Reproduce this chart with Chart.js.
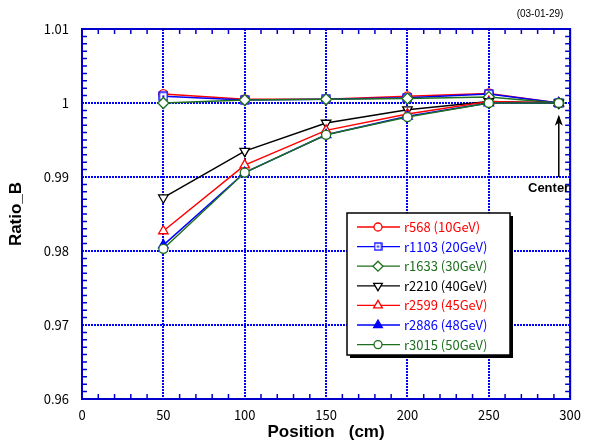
<!DOCTYPE html>
<html>
<head>
<meta charset="utf-8">
<script src="https://cdn.jsdelivr.net/npm/chart.js@4"></script>
<style>
  html,body{margin:0;padding:0;background:#fff;}
  #wrap{width:589px;height:446px;position:relative;}
</style>
</head>
<body>
<div id="wrap"><canvas id="chart"></canvas></div>
<script>
// data
const positions=[50,100,150,200,250,293]
const r568=[1.0012,1.0005,1.0005,1.0009,1.0013,1.0]
const r1103=[1.0009,1.0004,1.0005,1.0007,1.0012,1.0]
const r1633=[1.0,1.0004,1.0005,1.0006,1.0008,1.0]
const r2210=[0.9872,0.9935,0.9973,0.9991,1.0002,1.0]
const r2599=[0.9827,0.9916,0.9963,0.9985,1.0002,1.0]
const r2886=[0.9808,0.9906,0.9957,0.9982,1.0,1.0]
const r3015=[0.9803,0.9906,0.9957,0.9981,1.0,1.0]
const runLabels=['r568 (10GeV)','r1103 (20GeV)','r1633 (30GeV)','r2210 (40GeV)','r2599 (45GeV)','r2886 (48GeV)','r3015 (50GeV)']
const xTicks=[0,50,100,150,200,250,300]
const yTicks=[0.96,0.97,0.98,0.99,1,1.01]
const centerX=293

const RED='#ff0000',BLUE='#0000ff',GREEN='#1e701e',BLACK='#000000'

//open square with a dot in the middle
function dotSquare(size){
    const cv=document.createElement('canvas')
    cv.width=size;cv.height=size
    const g=cv.getContext('2d')
    g.fillStyle='#fff';g.fillRect(1,1,size-2,size-2)
    g.strokeStyle=BLUE;g.lineWidth=1.3
    g.strokeRect(1,1,size-2,size-2)
    g.fillStyle=BLUE;g.fillRect(size/2-1,size/2-1,2,2)
    return cv
}
const sqBig=dotSquare(10),sqSmall=dotSquare(9)

const series=[
    {vals:r568,color:RED,style:'circle',fill:'#fff',rot:0,r:4.5},
    {vals:r1103,color:BLUE,style:sqBig,fill:'#fff',rot:0,r:4.5},
    {vals:r1633,color:GREEN,style:'rectRot',fill:'#fff',rot:0,r:5.5},
    {vals:r2210,color:BLACK,style:'triangle',fill:'#fff',rot:180,r:5.5},
    {vals:r2599,color:RED,style:'triangle',fill:'#fff',rot:0,r:5.5},
    {vals:r2886,color:BLUE,style:'triangle',fill:BLUE,rot:0,r:5.5},
    {vals:r3015,color:GREEN,style:'circle',fill:'#fff',rot:0,r:4.5},
]

const datasets=series.map((s,i)=>({
    label:runLabels[i],
    data:positions.map((p,j)=>({x:p,y:s.vals[j]})),
    borderColor:s.color,
    backgroundColor:s.fill,
    pointStyle:s.style,
    rotation:s.rot,
    pointRadius:s.r,
    pointBorderWidth:1.3,
    borderWidth:1.5,
    showLine:true,
    order:series.length-i
}))

//minor ticks, frame, legend and the Center arrow
const extras={
    id:'extras',
    afterDatasetsDraw(chart){
        const c=chart.ctx,a=chart.chartArea
        const xs=chart.scales.x,ys=chart.scales.y
        c.save()
        c.strokeStyle='#0000cc'
        c.lineWidth=1.5
        c.beginPath()
        for(let v=10;v<300;v+=10){
            if(v%50==0)continue
            const px=xs.getPixelForValue(v)
            c.moveTo(px,a.bottom);c.lineTo(px,a.bottom-5)
            c.moveTo(px,a.top);c.lineTo(px,a.top+5)
        }
        for(let k=961;k<1010;k++){
            if(k%10==0)continue
            const py=ys.getPixelForValue(k/1000)
            c.moveTo(a.left,py);c.lineTo(a.left+5,py)
            c.moveTo(a.right,py);c.lineTo(a.right-5,py)
        }
        c.stroke()
        c.lineWidth=2
        c.strokeRect(a.left,a.top,a.right-a.left,a.bottom-a.top)

        // arrow
        const ax=xs.getPixelForValue(centerX)
        const yTip=ys.getPixelForValue(0.9984),yTail=ys.getPixelForValue(0.99)
        c.strokeStyle='#000';c.fillStyle='#000';c.lineWidth=1.5
        c.beginPath();c.moveTo(ax,yTail);c.lineTo(ax,yTip+2);c.stroke()
        c.beginPath();c.moveTo(ax,yTip);c.lineTo(ax-4,yTip+11);c.lineTo(ax,yTip+8);c.lineTo(ax+4,yTip+11);c.closePath();c.fill()
        c.font='bold 13px "Liberation Sans", Arial, sans-serif'
        c.textAlign='right';c.textBaseline='middle'
        c.fillText('Center',a.right-1,yTail+11)

        // date stamp
        c.font='10px "Liberation Sans", Arial, sans-serif'
        c.textAlign='center'
        c.fillText('(03-01-29)',540,14)

        // legend box
        const bx=a.left+265,by=a.top+184,bw=163,bh=142
        c.fillStyle='#000'
        c.fillRect(bx+3,by+3,bw,bh)
        c.fillStyle='#fff'
        c.fillRect(bx,by,bw,bh)
        c.strokeStyle='#000';c.lineWidth=1.5
        c.strokeRect(bx,by,bw,bh)
        c.font='13px "Noto Sans CJK JP", sans-serif'
        c.textAlign='left';c.textBaseline='middle'
        chart.data.datasets.forEach((d,i)=>{
            const ry=by+14+i*19.6
            c.strokeStyle=d.borderColor;c.lineWidth=1.3
            c.beginPath();c.moveTo(bx+10,ry);c.lineTo(bx+53,ry);c.stroke()
            c.fillStyle=d.backgroundColor
            const st=d.pointStyle===sqBig?sqSmall:d.pointStyle
            Chart.helpers.drawPoint(c,{pointStyle:st,rotation:d.rotation,radius:d.pointRadius-0.5,borderWidth:1.3},bx+31,ry)
            c.fillStyle=d.borderColor
            c.fillText(d.label,bx+57,ry)
        })
        c.restore()
    }
}

const gridOpts={color:'#0000ff',lineWidth:2,drawTicks:false}
const borderOpts={display:false,dash:[2,1]}

new Chart(document.querySelector('#chart'),{
    type:'scatter',
    data:{datasets},
    options:{
        responsive:true,
        maintainAspectRatio:false,
        animation:false,
        layout:{padding:{top:29,right:15,left:0,bottom:0}},
        plugins:{legend:{display:false},tooltip:{enabled:false}},
        scales:{
            x:{
                type:'linear',min:0,max:300,
                afterBuildTicks:s=>{s.ticks=xTicks.map(v=>({value:v}))},
                afterFit:s=>{s.height=47},
                grid:gridOpts,border:borderOpts,
                ticks:{color:'#000',padding:8,font:{family:'"Noto Sans CJK JP"',size:13},maxRotation:0},
                title:{display:true,text:'Position   (cm)',color:'#000',font:{family:'"Liberation Sans", Arial',size:17,weight:'bold'},padding:{top:0,bottom:3}}
            },
            y:{
                type:'linear',min:0.96,max:1.01,
                afterBuildTicks:s=>{s.ticks=yTicks.map(v=>({value:v}))},
                afterFit:s=>{s.width=82},
                grid:gridOpts,border:borderOpts,
                ticks:{color:'#000',padding:13,font:{family:'"Noto Sans CJK JP"',size:13},
                    callback:v=>Math.abs(v-1)<1e-9?'1':v.toFixed(2)},
                title:{display:true,text:'Ratio_B',color:'#000',font:{family:'"Liberation Sans", Arial',size:17,weight:'bold'},padding:{top:6,bottom:0}}
            }
        }
    },
    plugins:[extras]
})
</script>
</body>
</html>
